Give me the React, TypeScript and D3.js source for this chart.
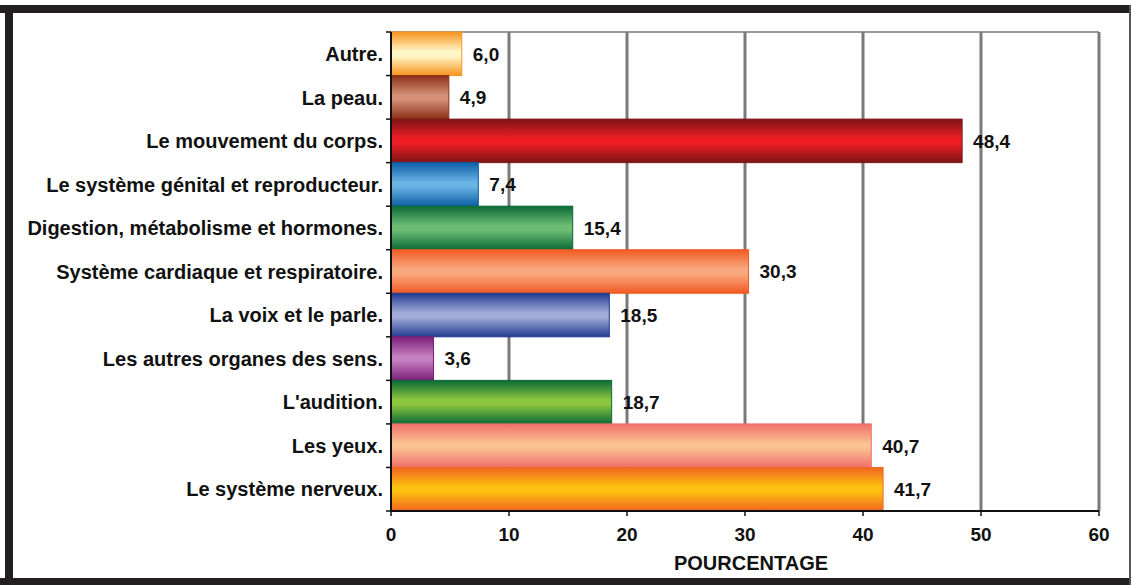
import * as d3 from 'd3';
import React from 'react';

const categories = [
  'Autre.',
  'La peau.',
  'Le mouvement du corps.',
  'Le système génital et reproducteur.',
  'Digestion, métabolisme et hormones.',
  'Système cardiaque et respiratoire.',
  'La voix et le parle.',
  'Les autres organes des sens.',
  "L'audition.",
  'Les yeux.',
  'Le système nerveux.',
];
const values = [6.0, 4.9, 48.4, 7.4, 15.4, 30.3, 18.5, 3.6, 18.7, 40.7, 41.7];
const edgeColors = ['#f7941d', '#8e2f18', '#7d1517', '#0d5ea6', '#0b6a36', '#f15a24', '#213a92', '#7b1e7a', '#0a6a36', '#ef6f6c', '#f26522'];
const midColors = ['#fff7c8', '#d39077', '#ee1d25', '#69b3e5', '#6dbd75', '#f9a97f', '#a3acd9', '#c67fc0', '#8dc63f', '#fbc190', '#fdc20f'];
const xTicks = [0, 10, 20, 30, 40, 50, 60];

const W = 1131;
const H = 585;
const margin = { left: 391, right: 32, top: 32, bottom: 74 };

export default function App() {
  const x = d3.scaleLinear().domain([0, 60]).range([margin.left, W - margin.right]);
  const y = d3.scaleBand().domain(categories).range([margin.top, H - margin.bottom]).padding(0);
  const fmt = (v: number) => v.toFixed(1).replace('.', ',');
  const font = 'Liberation Sans, Arial, sans-serif';
  const bottom = H - margin.bottom;

  return (
    <svg width={W} height={H} style={{ position: 'absolute', left: 0, top: 0, background: '#fff' }}>
      <defs>
        {categories.map((c, i) => (
          <linearGradient key={c} id={`g${i}`} x1="0" y1="0" x2="0" y2="1">
            <stop offset="0%" stopColor={edgeColors[i]} />
            <stop offset="45%" stopColor={midColors[i]} />
            <stop offset="55%" stopColor={midColors[i]} />
            <stop offset="100%" stopColor={edgeColors[i]} />
          </linearGradient>
        ))}
      </defs>

      {/* frame */}
      <rect x={0} y={5} width={W} height={8} fill="#231f20" />
      <rect x={5} y={5} width={8} height={H - 5} fill="#231f20" />
      <rect x={0} y={578} width={W} height={7} fill="#231f20" />
      <rect x={1129} y={5} width={2} height={H - 5} fill="#555" />

      {/* gridlines */}
      <line x1={margin.left} x2={x(60)} y1={margin.top} y2={margin.top} stroke="#9a9a9a" strokeWidth={2} />
      {xTicks.slice(1).map(t => (
        <line key={t} x1={x(t)} x2={x(t)} y1={margin.top} y2={bottom} stroke="#7a7a7a" strokeWidth={3} />
      ))}

      {/* bars */}
      {categories.map((c, i) => (
        <rect
          key={c}
          x={x(0)}
          y={y(c)!}
          width={x(values[i]) - x(0)}
          height={y.bandwidth()}
          fill={`url(#g${i})`}
          stroke={edgeColors[i]}
          strokeWidth={1}
        />
      ))}

      {/* value labels */}
      {categories.map((c, i) => (
        <text
          key={c}
          x={x(values[i]) + 11}
          y={y(c)! + y.bandwidth() / 2}
          dy="0.36em"
          fontFamily={font}
          fontWeight="bold"
          fontSize={19}
          fill="#111"
        >
          {fmt(values[i])}
        </text>
      ))}

      {/* axes */}
      <line x1={margin.left} x2={x(60)} y1={bottom} y2={bottom} stroke="#111" strokeWidth={2} />
      <line x1={margin.left} x2={margin.left} y1={margin.top} y2={bottom} stroke="#111" strokeWidth={2} />
      {categories.map(c => (
        <line key={c} x1={margin.left - 5} x2={margin.left} y1={y(c)!} y2={y(c)!} stroke="#111" strokeWidth={1.5} />
      ))}
      <line x1={margin.left - 5} x2={margin.left} y1={bottom} y2={bottom} stroke="#111" strokeWidth={1.5} />
      {xTicks.map(t => (
        <line key={t} x1={x(t)} x2={x(t)} y1={bottom} y2={bottom + 5} stroke="#111" strokeWidth={1.5} />
      ))}

      {categories.map(c => (
        <text
          key={c}
          x={margin.left - 8}
          y={y(c)! + y.bandwidth() / 2}
          dy="0.36em"
          textAnchor="end"
          fontFamily={font}
          fontWeight="bold"
          fontSize={20}
          fill="#111"
        >
          {c}
        </text>
      ))}

      {xTicks.map(t => (
        <text
          key={t}
          x={x(t)}
          y={bottom + 30}
          textAnchor="middle"
          fontFamily={font}
          fontWeight="bold"
          fontSize={19}
          fill="#111"
        >
          {t}
        </text>
      ))}

      <text x={751} y={570} textAnchor="middle" fontFamily={font} fontWeight="bold" fontSize={20} fill="#111">
        POURCENTAGE
      </text>
    </svg>
  );
}
